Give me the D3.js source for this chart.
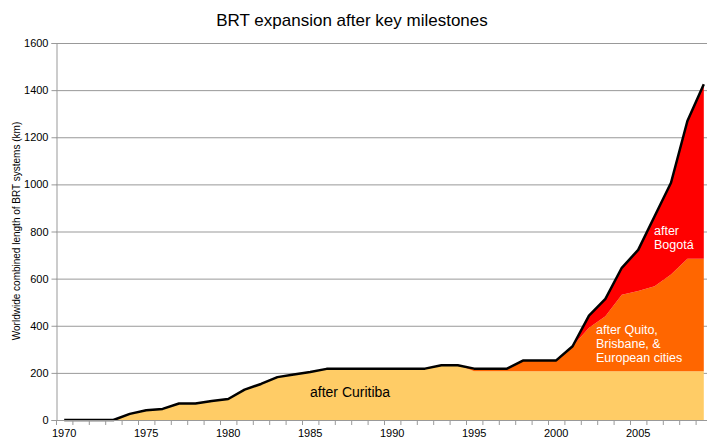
<!DOCTYPE html>
<html>
<head>
<meta charset="utf-8">
<script src="https://cdn.jsdelivr.net/npm/d3@7"></script>
<style>
  body { margin: 0; background: #fff; }
  svg { display: block; font-family: "Liberation Sans", Arial, sans-serif; }
</style>
</head>
<body>
<svg id="chart" width="707" height="438"></svg>
<script>
// years on the category axis
var years = d3.range(1970, 2010);

// km of BRT (stacked layers)
var curitiba = [0, 0, 0, 0, 26, 41, 47, 70, 70, 81, 89, 129, 153, 182, 193, 204, 217, 217, 217, 217,
                218, 218, 218, 232, 232, 207, 207, 207, 207, 207, 207, 207, 207, 207, 207, 207, 207, 207, 207, 207];
var quito    = [0, 0, 0, 0, 0, 0, 0, 0, 0, 0, 0, 0, 0, 0, 0, 0, 0, 0, 0, 0,
                0, 0, 0, 0, 0, 11, 11, 11, 46, 46, 46, 106, 184, 233, 325, 340, 361, 411, 477, 477];
var bogota   = [0, 0, 0, 0, 0, 0, 0, 0, 0, 0, 0, 0, 0, 0, 0, 0, 0, 0, 0, 0,
                0, 0, 0, 0, 0, 0, 0, 0, 0, 0, 0, 0, 52, 74, 114, 175, 297, 389, 585, 741];

var yTicks = [0, 200, 400, 600, 800, 1000, 1200, 1400, 1600];
var xLabels = [1970, 1975, 1980, 1985, 1990, 1995, 2000, 2005];

var rows = years.map(function(y, i) {
  return {year: y, curitiba: curitiba[i], quito: quito[i], bogota: bogota[i]};
});

var svg = d3.select("#chart");

var x = d3.scaleBand().domain(years).range([56, 712]).padding(0);
var y = d3.scaleLinear().domain([0, 1600]).range([420, 43]);
var cx = function(d) { return x(d) + x.bandwidth() / 2; };

// gridlines
svg.append("g")
  .selectAll("line")
  .data(yTicks.slice(1))
  .enter().append("line")
  .attr("x1", 56).attr("x2", 712)
  .attr("y1", function(d) { return y(d) + 0.5; })
  .attr("y2", function(d) { return y(d) + 0.5; })
  .attr("stroke", "#999").attr("stroke-width", 1);

var stack = d3.stack().keys(["curitiba", "quito", "bogota"]);
var layers = stack(rows);
var colors = {curitiba: "#FFCC66", quito: "#FF6600", bogota: "#FF0000"};

var area = d3.area()
  .x(function(d) { return cx(d.data.year); })
  .y0(function(d) { return y(d[0]); })
  .y1(function(d) { return y(d[1]); });

svg.append("g")
  .selectAll("path")
  .data(layers)
  .enter().append("path")
  .attr("d", area)
  .attr("fill", function(d) { return colors[d.key]; });

// total outline
var line = d3.line()
  .x(function(d) { return cx(d.year); })
  .y(function(d) { return y(d.curitiba + d.quito + d.bogota); });

svg.append("path")
  .datum(rows)
  .attr("d", line)
  .attr("fill", "none")
  .attr("stroke", "#000")
  .attr("stroke-width", 2.5)
  .attr("stroke-linejoin", "round");

// y axis
var yAxis = d3.axisLeft(y).tickValues(yTicks).tickFormat(d3.format("d")).tickSize(5).tickPadding(3);
var gy = svg.append("g").attr("transform", "translate(56.5,0)").call(yAxis);
gy.select(".domain").attr("stroke", "#999");
gy.selectAll(".tick line").attr("stroke", "#999");
gy.selectAll(".tick text").attr("font-size", 11).attr("fill", "#000")
  .attr("font-family", "Liberation Sans, Arial, sans-serif");

// x axis (ticks between categories)
svg.append("line")
  .attr("x1", 56).attr("x2", 712).attr("y1", 420.5).attr("y2", 420.5)
  .attr("stroke", "#999");
svg.append("g")
  .selectAll("line")
  .data(years.concat([2010]))
  .enter().append("line")
  .attr("x1", function(d, i) { return 56 + i * x.bandwidth() + 0.5; })
  .attr("x2", function(d, i) { return 56 + i * x.bandwidth() + 0.5; })
  .attr("y1", 420).attr("y2", 425)
  .attr("stroke", "#999");
svg.append("g")
  .selectAll("text")
  .data(xLabels)
  .enter().append("text")
  .attr("x", function(d) { return cx(d); })
  .attr("y", 437)
  .attr("text-anchor", "middle")
  .attr("font-size", 11)
  .text(function(d) { return d; });

// title
svg.append("text")
  .attr("x", 352).attr("y", 26)
  .attr("text-anchor", "middle")
  .attr("font-size", 17)
  .text("BRT expansion after key milestones");

// y label
svg.append("text")
  .attr("transform", "translate(20,231) rotate(-90)")
  .attr("text-anchor", "middle")
  .attr("font-size", 10)
  .text("Worldwide combined length of BRT systems (km)");

// layer labels
svg.append("text")
  .attr("x", 310).attr("y", 397)
  .attr("font-size", 14)
  .text("after Curitiba");

var q = svg.append("text").attr("font-size", 12.5).attr("fill", "#fff");
["after Quito,", "Brisbane, &", "European cities"].forEach(function(t, i) {
  q.append("tspan").attr("x", 596).attr("y", 334 + i * 14.2).text(t);
});

var b = svg.append("text").attr("font-size", 12.5).attr("fill", "#fff");
["after", "Bogotá"].forEach(function(t, i) {
  b.append("tspan").attr("x", 654).attr("y", 235 + i * 14.2).text(t);
});
</script>
</body>
</html>
